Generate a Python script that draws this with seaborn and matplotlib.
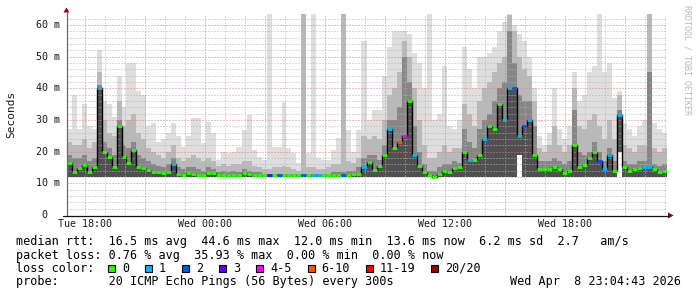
import numpy as np
import pandas as pd
import matplotlib
matplotlib.use("Agg")
import matplotlib.pyplot as plt
import seaborn as sns
from matplotlib.lines import Line2D
from matplotlib.patches import Polygon, Rectangle

# ---------------- data (15-minute bins, hours since Tue 00:00) ----------------
start_hour = 17 + 4 / 60 + 43 / 3600
bin_hours = 0.25

median_ms = [
    16.3, 13.7, 14.7, 15.8, 13.7, 15.3, 40.0, 20.0, 18.4, 15.3, 28.0, 18.4, 16.3, 20.5, 15.3, 14.7, 14.2, 13.7, 13.7, 13.2,
    13.7, 16.0, 13.0, 12.6, 13.4, 13.0, 12.6, 12.5, 13.4, 13.2, 12.5, 12.5, 12.5, 12.5, 12.5, 13.2, 13.0, 12.5, 12.5, 12.5,
    12.5, 12.5, 12.5, 12.5, 12.5, 12.5, 12.5, 12.5, 12.5, 12.5, 12.5, 12.5, 12.5, 12.5, 12.5, 12.5, 12.5, 12.8, 13.0, 15.3,
    16.8, 14.2, 15.5, 19.0, 27.0, 21.0, 23.0, 25.0, 36.0, 19.0, 15.5, 13.5, 12.6, 12.1, 13.0, 14.0, 13.7, 14.7, 15.0, 20.0,
    17.5, 17.4, 19.0, 24.0, 28.0, 27.0, 35.0, 30.0, 40.0, 40.0, 25.0, 28.0, 30.0, 19.0, 14.5, 14.5, 14.5, 15.0, 14.5, 13.2,
    14.0, 22.0, 15.0, 15.8, 18.0, 20.0, 17.0, 14.5, 19.0, 14.0, 31.6, 15.3, 14.0, 14.5, 14.8, 15.0, 15.0, 14.5, 13.5, 14.0,
]
q75_ms = [
    19, 18, 18, 19, 17, 18, 41, 23, 21, 19, 30, 22, 21, 23, 19, 18, 17, 16, 15.5, 15,
    16, 18, 15, 14.5, 15, 15, 14.5, 14, 15, 14.5, 13.5, 14, 13.5, 14, 13.5, 14.5, 14, 13.5, 13.5, 13,
    13, 13, 13, 13, 13, 13, 13, 13, 13, 13, 13, 13, 13, 13.5, 13.5, 13.5, 14, 14, 15, 18,
    19, 19, 17.5, 22, 30, 30, 34, 50, 42, 28, 20, 16, 14, 14, 15, 16, 16, 17, 16.5, 27,
    23, 21, 27, 30, 32, 36, 40, 42, 58, 48, 38, 36, 36, 28, 17, 17, 17, 18, 17, 16,
    17, 33, 20, 19, 20, 23, 20, 17, 21, 17, 33, 17, 16, 16, 17, 17, 45, 16, 15.5, 16,
]
q90_ms = [
    23, 22, 22, 24, 21, 23, 45, 30, 26, 25, 36, 28, 30, 32, 26, 24, 21, 20, 19, 18,
    20, 22, 18, 17, 18, 19, 18, 17, 18, 17, 15.5, 16, 15.5, 16, 16, 17, 17, 15.5, 15, 14.5,
    14.5, 15, 15, 15.5, 15, 14.5, 14, 63.5, 15, 15, 14.5, 14.5, 15, 16, 16, 63.5, 17, 16.5, 18, 25,
    24, 25, 24, 30, 38, 40, 45, 55, 50, 40, 30, 22, 18, 18, 20, 22, 20, 21, 21, 35,
    32, 28, 36, 40, 42, 45, 48, 50, 63, 58, 50, 46, 44, 36, 21, 20, 22, 28, 22, 20,
    22, 40, 28, 27, 30, 32, 28, 24, 30, 24, 38, 22, 21, 20, 22, 22, 63.5, 21, 20, 21,
]
max_ms = [
    27, 38, 27, 35, 28, 27, 52, 36, 35, 31, 44, 34, 48, 48, 39, 38, 28, 29, 23, 24,
    26, 29, 25, 21.6, 25, 30.5, 30.5, 22.6, 29.5, 25.8, 17.4, 20, 19.5, 20, 21.6, 26.8, 31.6, 20.5, 18.4, 17.4,
    63.5, 21.6, 21.6, 35.8, 21, 19.5, 16.3, 63.5, 19.5, 63.5, 17.9, 17.4, 17.4, 20.5, 24.2, 63.5, 26.8, 20, 26.8, 55,
    30, 33, 33, 44, 53, 58, 58, 58, 57, 51, 48, 40, 63.5, 30, 32, 47, 28, 27, 30, 53,
    46, 40, 50, 50, 51, 53, 58, 61, 63.5, 60, 57, 55, 50, 40, 25, 22, 26, 40, 27, 24,
    28, 45, 36, 38, 45, 47, 63.5, 45, 48, 37, 39, 29, 27, 25, 28, 30, 63.5, 29, 27, 26,
]
min_ms = [
    12, 12, 12, 12, 12, 12, 12, 12, 12, 12, 12, 12, 12, 12, 12, 12, 12, 12, 12, 12,
    12, 12, 12, 12, 12, 12, 12, 12, 12, 12, 12, 12, 12, 12, 12, 12, 12, 12, 12, 12,
    12, 12, 12, 12, 12, 12, 12, 12, 12, 12, 12, 12, 12, 12, 12, 12, 12, 12, 12, 12,
    12, 12, 12, 12, 12, 12, 12, 12, 12, 12, 12, 12, 12, 12, 12, 12, 12, 12, 12, 12,
    12, 12, 12, 12, 12, 12, 12, 12, 12, 12, 19, 12, 12, 12, 12, 12, 12, 12, 12, 12,
    12, 12, 12, 12, 12, 12, 12, 12, 12, 12, 20, 12, 12, 12, 12, 12, 12, 12, 12, 12,
]
loss_count = [
    0, 0, 0, 0, 0, 0, 1, 0, 0, 0, 0, 0, 0, 0, 0, 0, 0, 0, 0, 0,
    0, 1, 0, 0, 0, 0, 0, 0, 0, 0, 0, 0, 0, 0, 0, 0, 0, 0, 0, 0,
    3, 0, 2, 0, 0, 0, 0, 2, 0, 1, 1, 0, 0, 0, 0, 2, 0, 0, 0, 1,
    0, 0, 0, 0, 1, 0, 7, 5, 0, 1, 0, 0, 0, 0, 0, 0, 0, 0, 0, 0,
    1, 0, 0, 1, 0, 0, 0, 1, 1, 2, 1, 2, 1, 0, 0, 0, 0, 0, 0, 0,
    0, 0, 0, 0, 0, 0, 2, 1, 1, 0, 1, 0, 0, 0, 0, 1, 1, 0, 0, 0,
]

xtick_hours = [18, 24, 30, 36, 42]
xtick_labels = ["Tue 18:00", "Wed 00:00", "Wed 06:00", "Wed 12:00", "Wed 18:00"]
ytick_values = [0, 10, 20, 30, 40, 50, 60]
ytick_labels = ["0", "10 m", "20 m", "30 m", "40 m", "50 m", "60 m"]

loss_labels = ["0", "1", "2", "3", "4-5", "6-10", "11-19", "20/20"]
loss_upper = [0, 1, 2, 3, 5, 10, 19, 20]
loss_colors = ["#26ff00", "#00b8ff", "#0059ff", "#5e00ff", "#ff00ff", "#ff5500", "#ff0000", "#a10000"]

stats_lines = [
    "median rtt:  16.5 ms avg  44.6 ms max  12.0 ms min  13.6 ms now  6.2 ms sd  2.7   am/s",
    "packet loss: 0.76 % avg  35.93 % max  0.00 % min  0.00 % now",
]
legend_title = "loss color:"
probe_text = "probe:       20 ICMP Echo Pings (56 Bytes) every 300s"
stamp_text = "Wed Apr  8 23:04:43 2026"
y_title = "Seconds"
tag_text = "RRDTOOL / TOBI OETIKER"

# ---------------- figure ----------------
sns.set_theme(style="white")
plt.rcParams["font.family"] = ["DejaVu Sans Mono", "DejaVu Sans"]

W, H = 697, 297


def fx(x):
    return x / W


def fy(y):
    return 1 - y / H


n = len(median_ms)
t_edges = start_hour + bin_hours * np.arange(n + 1)


def ext(a):
    a = np.asarray(a, dtype=float)
    return np.append(a, a[-1])


df = pd.DataFrame({"hour": t_edges, "median": ext(median_ms)})

fig = plt.figure(figsize=(W / 100, H / 100), dpi=100)
fig.patch.set_facecolor("white")
ymax = 63.5
ax_left, ax_right, ax_bottom = 66.5, 666.5, 215.0
px_per_ms = 3.1667
ax_top = ax_bottom - ymax * px_per_ms
ax = fig.add_axes([fx(ax_left), fy(ax_bottom), (ax_right - ax_left) / W, (ax_bottom - ax_top) / H])
ax.set_facecolor("white")
ax.set_xlim(t_edges[0], t_edges[-1])
ax.set_ylim(0, ymax)

# smoke layers
layers = [(max_ms, "#dedede"), (q90_ms, "#b9b9b9"), (q75_ms, "#868686"), (median_ms, "#505050")]
for arr, col in layers:
    ax.fill_between(t_edges, ext(min_ms), ext(arr), step="post", color=col, lw=0, zorder=1)

# grid
minor_col, major_col = "#b4b4b4", "#e87878"
dots = (0, (1, 2))
for h in range(18, 48):
    if h % 3:
        ax.axvline(h, color=minor_col, lw=0.72, ls=dots, zorder=2)
for v in range(2, 64, 2):
    if v % 10:
        ax.axhline(v, color=minor_col, lw=0.72, ls=dots, zorder=2)
for h in range(18, 48, 3):
    ax.axvline(h, color=major_col, lw=0.72, ls=dots, zorder=3)
for v in range(10, 64, 10):
    ax.axhline(v, color=major_col, lw=0.72, ls=dots, zorder=3)


# median line
def loss_color(c):
    for up, col in zip(loss_upper, loss_colors):
        if c <= up:
            return col
    return loss_colors[-1]


sns.lineplot(data=df, x="hour", y="median", drawstyle="steps-post", color="black",
             lw=1.0, ax=ax, zorder=4, estimator=None, sort=False, legend=False)
ax.hlines(median_ms, t_edges[:-1], t_edges[1:], colors=[loss_color(c) for c in loss_count],
          lw=2.0, zorder=5)

# axes cosmetics
for s in ax.spines.values():
    s.set_visible(False)
ax.set_xlabel("")
ax.set_ylabel("")
ax.set_xticks(xtick_hours, xtick_labels)
ax.set_yticks([])
ax.tick_params(axis="x", length=0, pad=3.2, labelsize=7.2, colors="#1a1a1a")

ytrans = ax.get_yaxis_transform()
for v, lab in zip(ytick_values, ytick_labels):
    pad_px = 6.5 + (0 if " " in lab else 13)
    ax.text(-pad_px / (ax_right - ax_left), v, lab, transform=ytrans, ha="right", va="center",
            fontsize=7.2, color="#1a1a1a")

# axis lines and arrows
fig.add_artist(Line2D([fx(66.5), fx(66.5)], [fy(215), fy(11)], color="#6a6a6a", lw=0.9))
fig.add_artist(Line2D([fx(63), fx(669)], [fy(215.5), fy(215.5)], color="#111111", lw=0.9))
fig.add_artist(Polygon([(fx(63.5), fy(12.5)), (fx(69.5), fy(12.5)), (fx(66.5), fy(7.5))],
                       closed=True, transform=fig.transFigure, color="#8b0000", lw=0))
fig.add_artist(Polygon([(fx(668), fy(212.5)), (fx(668), fy(218.5)), (fx(673.5), fy(215.5))],
                       closed=True, transform=fig.transFigure, color="#8b0000", lw=0))

# titles
fig.text(fx(11), fy(114), y_title, rotation=90, ha="center", va="center", fontsize=8, color="#1a1a1a")
fig.text(fx(687.5), fy(5), tag_text, rotation=270, ha="center", va="top", fontsize=6,
         color="#b8b8b8")

# bottom legend text
fs = 8.5
row_y = [241, 255, 268, 282]
fig.text(fx(16), fy(row_y[0]), stats_lines[0], ha="left", va="center", fontsize=fs, color="black")
fig.text(fx(16), fy(row_y[1]), stats_lines[1], ha="left", va="center", fontsize=fs, color="black")
fig.text(fx(16), fy(row_y[2]), legend_title, ha="left", va="center", fontsize=fs, color="black")
char_w = 7.08
x = 108.0
for lab, col in zip(loss_labels, loss_colors):
    fig.add_artist(Rectangle((fx(x), fy(row_y[2] + 3.5)), 7 / W, 7 / H, transform=fig.transFigure,
                             facecolor=col, edgecolor="black", lw=0.8))
    fig.text(fx(x + 14), fy(row_y[2]), lab, ha="left", va="center", fontsize=fs, color="black")
    x = x + 14 + len(lab) * char_w + 16
fig.text(fx(16), fy(row_y[3]), probe_text, ha="left", va="center", fontsize=fs, color="black")
fig.text(fx(681), fy(row_y[3]), stamp_text, ha="right", va="center", fontsize=fs, color="black")

fig.savefig("out.png", dpi=100, facecolor="white")
